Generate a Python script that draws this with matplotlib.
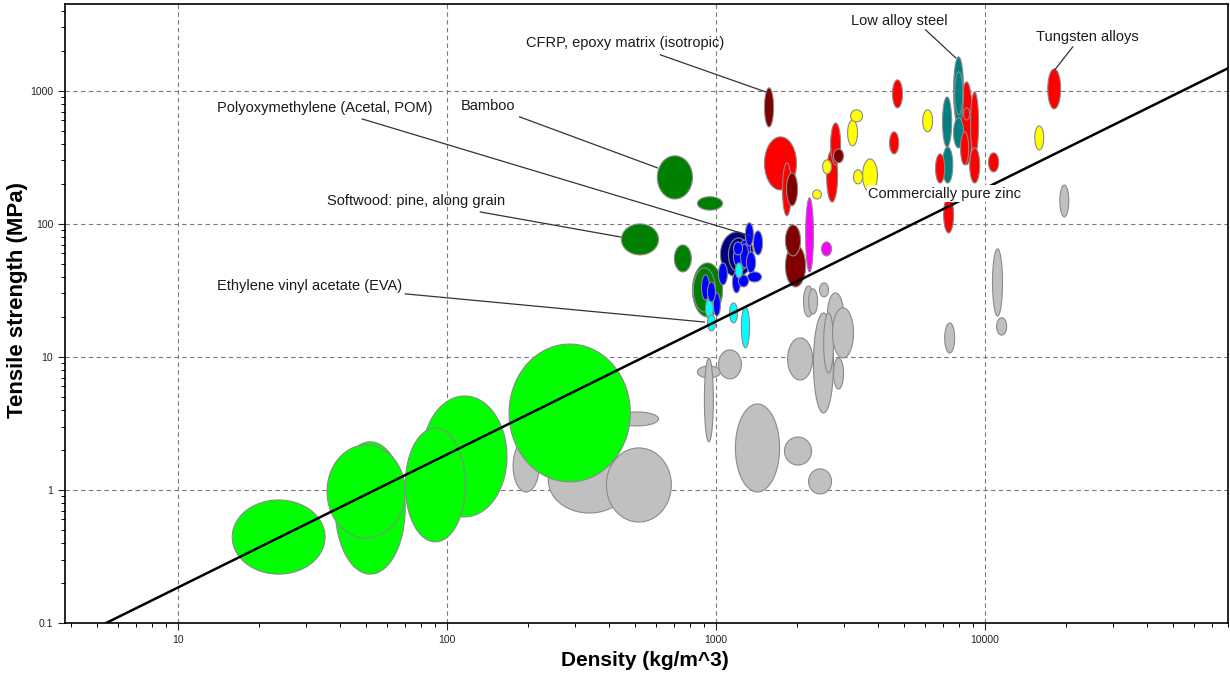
import matplotlib
matplotlib.use('Agg')
import matplotlib.pyplot as plt
import matplotlib.ticker as mtick
import numpy as np

plt.rcParams['font.family'] = ['Liberation Sans', 'DejaVu Sans']

# each bubble = (min, max) density in kg/m^3 and (min, max) tensile strength in MPa

# foams (lime)
foam_rho = [(15.9, 35.2), (38.4, 69.9), (35.8, 69.9), (80.9, 167), (69.9, 117), (170, 480)]
foam_sig = [(0.233, 0.841), (0.233, 2.30), (0.435, 2.18), (0.627, 5.09), (0.407, 2.92), (1.15, 12.5)]

# everything else (grey)
other_rho = [(176, 220), (238, 480), (391, 682), (423, 611), (853, 1038), (905, 977),
             (1021, 1242), (1180, 1722), (1796, 2265), (2208, 2687), (1845, 2285),
             (2114, 2302), (2208, 2384), (2426, 2618), (2594, 2978), (2302, 2733),
             (2512, 2733), (2710, 3243), (2733, 2978), (18970, 20470), (10660, 11610),
             (11040, 12030), (7079, 7709)]
other_sig = [(0.966, 2.38), (0.671, 2.07), (0.574, 2.07), (3.03, 3.86), (6.95, 8.55), (2.30, 9.82),
             (6.84, 11.3), (0.966, 4.43), (1.54, 2.50), (0.933, 1.44), (6.71, 13.9),
             (20.0, 34.2), (21.0, 32.5), (28.3, 36.0), (14.4, 30.3), (3.79, 21.4),
             (7.59, 21.4), (9.82, 23.4), (5.74, 9.82), (113, 196), (20.3, 64.9),
             (14.6, 19.7), (10.7, 18.0)]

# natural materials (dark green)
natural_rho = [(605, 817), (853, 1057), (445, 611), (700, 809), (817, 1057), (824, 995)]
natural_sig = [(154, 325), (127, 160), (58.5, 100), (43.6, 69.5), (20.0, 50.9), (21.8, 46.7)]

# polymers (navy / blue)
navy_rho = [(1038, 1377), (1112, 1321)]
navy_sig = [(40.0, 87.1), (43.6, 78.5)]
blue_rho = [(1285, 1377), (1377, 1489), (1161, 1254), (1233, 1321), (1297, 1403), (1309, 1476),
            (1211, 1321), (1021, 1102), (1151, 1233), (883, 945), (977, 1038), (929, 995),
            (1161, 1264), (1222, 1343)]
blue_sig = [(68.3, 102), (58.5, 88.6), (58.5, 73.2), (46.7, 70.8), (42.8, 61.6), (36.6, 43.6),
            (33.6, 41.4), (34.8, 50.9), (30.3, 43.6), (26.8, 41.4), (20.3, 30.3), (25.9, 36.6),
            (47.5, 67.2), (53.6, 75.8)]

# elastomers (cyan)
cyan_rho = [(1180, 1254), (914, 977), (929, 995), (1122, 1202), (1242, 1332)]
cyan_sig = [(39.3, 50.9), (19.3, 27.8), (15.7, 20.7), (18.0, 25.5), (11.7, 23.8)]

# composites (dark red / magenta)
comp_rho = [(1514, 1636), (1828, 2009), (2733, 2978), (1811, 2061), (1811, 2153)]
comp_sig = [(536, 1054), (137, 242), (288, 366), (57.5, 98.3), (33.6, 69.5)]
magenta_rho = [(2153, 2302), (2466, 2687)]
magenta_sig = [(43.6, 157), (57.5, 73.2)]

# metals (red / yellow / teal)
metal_rho = [(1514, 1991), (1766, 1905), (2667, 2904), (2576, 2831), (4529, 4932), (4416, 4775),
             (6546, 7079), (8110, 8995), (8831, 9462), (8110, 8690), (8770, 9550),
             (10300, 11240), (7015, 7638), (8318, 8770), (17100, 19100)]
metal_sig = [(180, 451), (115, 288), (278, 574), (146, 360), (745, 1211), (336, 492),
             (203, 336), (278, 1169), (330, 983), (278, 492), (203, 373),
             (246, 342), (85.5, 160), (605, 745), (733, 1462)]
yellow_rho = [(3162, 3505), (3083, 3357), (2489, 2687), (3243, 3505), (3505, 3981), (2285, 2466),
              (5861, 6383), (15310, 16520)]
yellow_sig = [(585, 720), (386, 605), (238, 303), (200, 255), (174, 308), (154, 180),
              (492, 720), (360, 546)]
steel_rho = [(7638, 8318), (7709, 8260), (6950, 7510), (7638, 8318), (6950, 7586)]
steel_sig = [(555, 1803), (660, 1390), (379, 901), (373, 627), (203, 379)]

# guide line: sigma / rho = const
guide_ratio = 0.0185
guide_rho = [4.0, 90000]

# labelled materials: text centre, leader start, leader end
label_names = ['CFRP, epoxy matrix (isotropic)', 'Polyoxymethylene (Acetal, POM)', 'Bamboo',
               'Softwood: pine, along grain', 'Ethylene vinyl acetate (EVA)',
               'Low alloy steel', 'Tungsten alloys']
label_pos = [(460, 2296), (35.2, 745), (142, 771), (76.8, 149), (30.7, 34.2), (4810, 3357), (24100, 2547)]
leader_from = [(621, 1866), (48.4, 615), (186, 638), (133, 123), (69.9, 29.8), (6010, 2877), (21180, 2143)]
leader_to = [(1528, 983), (1343, 81.3), (605, 264), (441, 79.8), (905, 18.3), (7780, 1771), (18160, 1439)]
zinc_name = 'Commercially pure zinc'
zinc_pos = (7080, 168)


fig = plt.figure(figsize=(12.3, 6.76), dpi=100)
ax = fig.add_axes([65 / 1230, 53 / 676, 1163 / 1230, 619 / 676])
ax.set_xscale('log')
ax.set_yscale('log')
ax.set_xlim(3.8, 80000)
ax.set_ylim(0.1, 4500)

t = np.linspace(0, 2 * np.pi, 120)


def bubble(rho, sig, color, z):
    lr = np.log10(rho)
    ls = np.log10(sig)
    cx, rx = lr.mean(), (lr[1] - lr[0]) / 2
    cy, ry = ls.mean(), (ls[1] - ls[0]) / 2
    ax.fill(10 ** (cx + rx * np.cos(t)), 10 ** (cy + ry * np.sin(t)),
            facecolor=color, edgecolor='#8a8a8a', lw=0.8, zorder=z)


# grey ones at the back
for r, s in zip(other_rho, other_sig):
    bubble(r, s, '#c0c0c0', 2)

# coloured ones, biggest first so small ones stay visible
families = [(foam_rho, foam_sig, '#00ff00'), (natural_rho, natural_sig, '#008000'),
            (navy_rho, navy_sig, '#000080'), (blue_rho, blue_sig, '#0000ff'),
            (cyan_rho, cyan_sig, '#00ffff'), (comp_rho, comp_sig, '#800000'),
            (magenta_rho, magenta_sig, '#ff00ff'), (metal_rho, metal_sig, '#ff0000'),
            (yellow_rho, yellow_sig, '#ffff00'), (steel_rho, steel_sig, '#008080')]
items = []
for rl, sl, c in families:
    for r, s in zip(rl, sl):
        area = np.log10(r[1] / r[0]) * np.log10(s[1] / s[0])
        items.append((area, r, s, c))
items.sort(key=lambda it: -it[0])
for i, (a, r, s, c) in enumerate(items):
    bubble(r, s, c, 3 + i * 0.001)

ax.plot(guide_rho, [g * guide_ratio for g in guide_rho], color='black', lw=1.8, zorder=6)

for name, p, a, b in zip(label_names, label_pos, leader_from, leader_to):
    ax.text(p[0], p[1], name, ha='center', va='center', fontsize=10.5, color='#1a1a1a', zorder=8)
    ax.plot([a[0], b[0]], [a[1], b[1]], color='#333333', lw=0.9, zorder=7)
ax.text(zinc_pos[0], zinc_pos[1], zinc_name, ha='center', va='center', fontsize=10.5, color='#1a1a1a',
        zorder=9, bbox=dict(facecolor='white', edgecolor='none', pad=1))

ax.grid(True, which='major', ls=(0, (4, 3)), color='#7a7a7a', lw=0.8)
ax.set_axisbelow(True)
fmt = mtick.FuncFormatter(lambda v, p: f'{v:g}')
ax.xaxis.set_major_formatter(fmt)
ax.yaxis.set_major_formatter(fmt)
ax.xaxis.set_minor_formatter(mtick.NullFormatter())
ax.yaxis.set_minor_formatter(mtick.NullFormatter())
ax.tick_params(which='major', direction='out', length=5, width=0.8, labelsize=7.5, colors='#222222')
ax.tick_params(which='minor', direction='out', length=3, width=0.7)
for sp in ax.spines.values():
    sp.set_linewidth(1.2)

fig.text(645 / 1230, 1 - 660 / 676, 'Density (kg/m^3)', ha='center', va='center',
         fontsize=15, fontweight='bold')
fig.text(18 / 1230, 1 - 300 / 676, 'Tensile strength (MPa)', ha='center', va='center',
         fontsize=16, fontweight='bold', rotation=90)

fig.savefig('out.png', dpi=100)
